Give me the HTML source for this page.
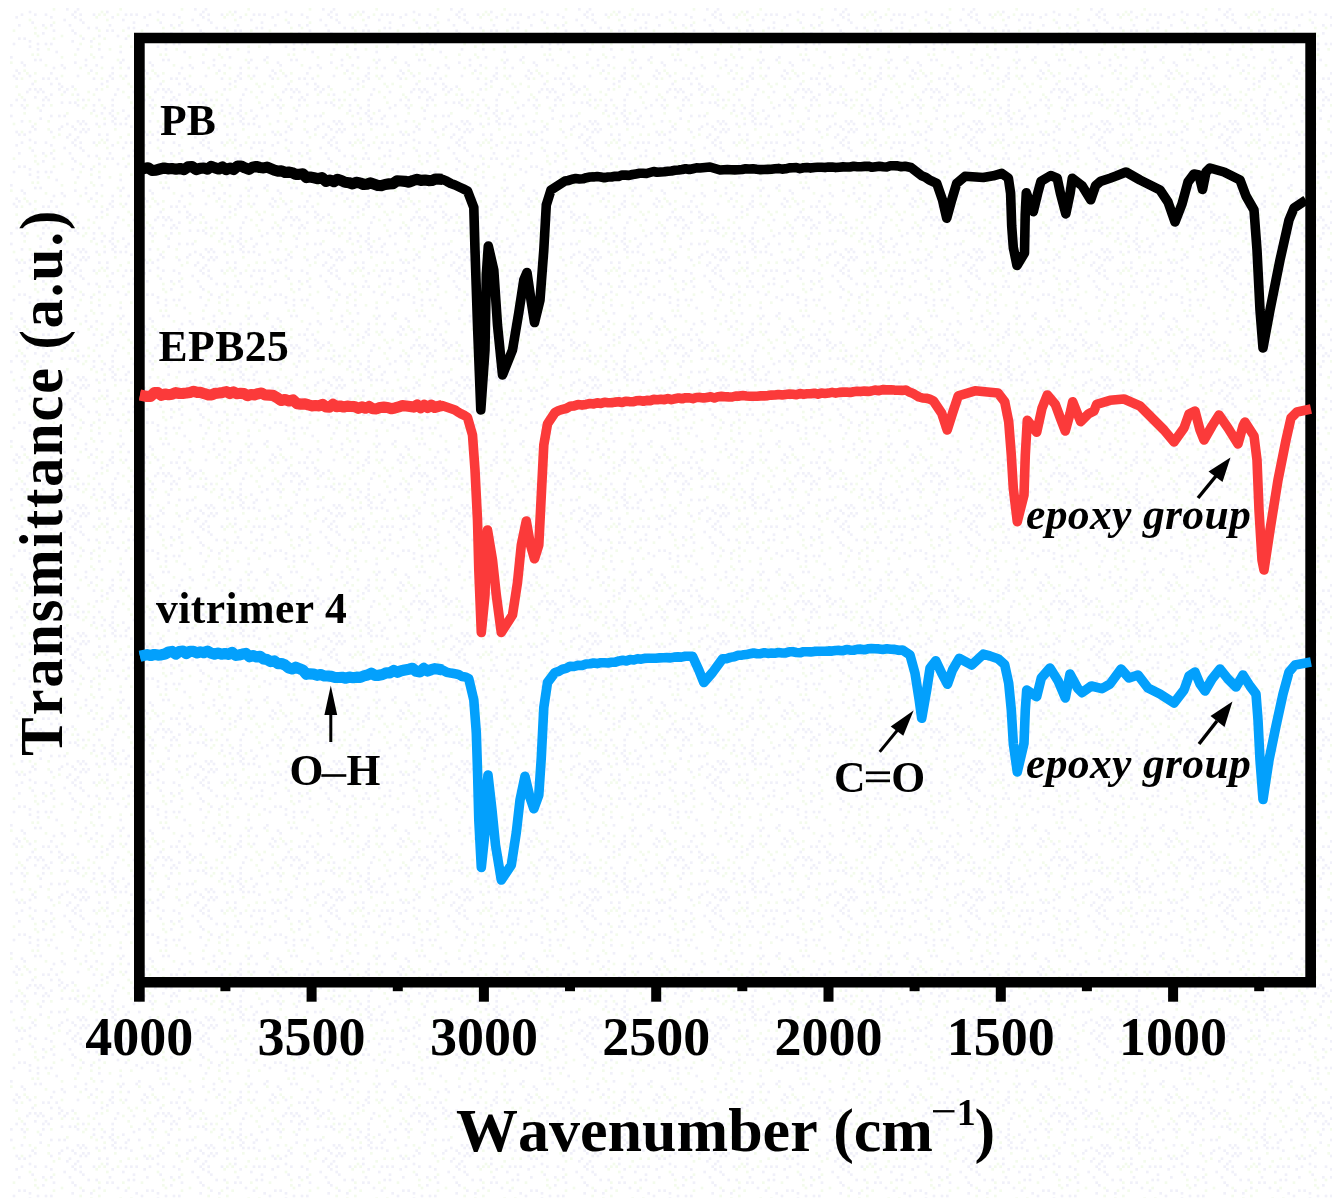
<!DOCTYPE html>
<html><head><meta charset="utf-8"><title>FTIR</title>
<style>
html,body{margin:0;padding:0;background:#fff;}
body{width:1344px;height:1200px;overflow:hidden;}
svg{display:block;filter:blur(0.7px);}
text{font-family:"Liberation Serif",serif;font-weight:bold;fill:#000;}
.tk{font-size:54px;}
.lb{font-size:43.6px;}
.it{font-size:43.6px;font-style:italic;}
.ax{font-size:62.5px;}
</style></head><body>
<svg width="1344" height="1200" viewBox="0 0 1344 1200">
<defs><pattern id="dz" x="10" y="8" width="128.0" height="128.0" patternUnits="userSpaceOnUse"><rect x="98.67" y="66.67" width="2.67" height="2.67" fill="#f0f0f9"/><rect x="90.67" y="58.67" width="2.67" height="2.67" fill="#f3fbec"/><rect x="80.00" y="45.33" width="2.67" height="2.67" fill="#f3fbec"/><rect x="2.67" y="21.33" width="2.67" height="2.67" fill="#f3fbec"/><rect x="13.33" y="29.33" width="2.67" height="2.67" fill="#f0f0f9"/><rect x="117.33" y="106.67" width="2.67" height="2.67" fill="#f0f0f9"/><rect x="72.00" y="98.67" width="2.67" height="2.67" fill="#f3fbec"/><rect x="26.67" y="26.67" width="2.67" height="2.67" fill="#f3fbec"/><rect x="88.00" y="40.00" width="2.67" height="2.67" fill="#f0f0f9"/><rect x="120.00" y="117.33" width="2.67" height="2.67" fill="#f0f0f9"/><rect x="96.00" y="72.00" width="2.67" height="2.67" fill="#f0f0f9"/><rect x="88.00" y="34.67" width="2.67" height="2.67" fill="#f3fbec"/><rect x="8.00" y="125.33" width="2.67" height="2.67" fill="#f0f0f9"/><rect x="106.67" y="80.00" width="2.67" height="2.67" fill="#f0f0f9"/><rect x="32.00" y="82.67" width="2.67" height="2.67" fill="#f0f0f9"/><rect x="82.67" y="85.33" width="2.67" height="2.67" fill="#f3fbec"/><rect x="117.33" y="74.67" width="2.67" height="2.67" fill="#f3fbec"/><rect x="42.67" y="21.33" width="2.67" height="2.67" fill="#f0f0f9"/><rect x="10.67" y="112.00" width="2.67" height="2.67" fill="#f0f0f9"/><rect x="58.67" y="16.00" width="2.67" height="2.67" fill="#f0f0f9"/><rect x="101.33" y="8.00" width="2.67" height="2.67" fill="#f0f0f9"/><rect x="37.33" y="69.33" width="2.67" height="2.67" fill="#f0f0f9"/><rect x="16.00" y="64.00" width="2.67" height="2.67" fill="#f3fbec"/><rect x="74.67" y="96.00" width="2.67" height="2.67" fill="#f3fbec"/><rect x="34.67" y="88.00" width="2.67" height="2.67" fill="#f0f0f9"/><rect x="85.33" y="8.00" width="2.67" height="2.67" fill="#f3fbec"/><rect x="96.00" y="10.67" width="2.67" height="2.67" fill="#f3fbec"/><rect x="18.67" y="112.00" width="2.67" height="2.67" fill="#f3fbec"/><rect x="18.67" y="37.33" width="2.67" height="2.67" fill="#f0f0f9"/><rect x="101.33" y="90.67" width="2.67" height="2.67" fill="#f0f0f9"/><rect x="13.33" y="104.00" width="2.67" height="2.67" fill="#f3fbec"/><rect x="117.33" y="88.00" width="2.67" height="2.67" fill="#f3fbec"/><rect x="85.33" y="56.00" width="2.67" height="2.67" fill="#f0f0f9"/><rect x="112.00" y="69.33" width="2.67" height="2.67" fill="#f3fbec"/><rect x="5.33" y="69.33" width="2.67" height="2.67" fill="#f0f0f9"/><rect x="61.33" y="5.33" width="2.67" height="2.67" fill="#f0f0f9"/><rect x="125.33" y="5.33" width="2.67" height="2.67" fill="#f0f0f9"/><rect x="120.00" y="37.33" width="2.67" height="2.67" fill="#f3fbec"/><rect x="34.67" y="5.33" width="2.67" height="2.67" fill="#f0f0f9"/><rect x="10.67" y="122.67" width="2.67" height="2.67" fill="#f3fbec"/><rect x="109.33" y="0.00" width="2.67" height="2.67" fill="#f3fbec"/><rect x="0.00" y="48.00" width="2.67" height="2.67" fill="#f0f0f9"/><rect x="88.00" y="90.67" width="2.67" height="2.67" fill="#f0f0f9"/><rect x="61.33" y="21.33" width="2.67" height="2.67" fill="#f0f0f9"/><rect x="72.00" y="13.33" width="2.67" height="2.67" fill="#f0f0f9"/><rect x="114.67" y="29.33" width="2.67" height="2.67" fill="#f0f0f9"/><rect x="24.00" y="5.33" width="2.67" height="2.67" fill="#f0f0f9"/><rect x="50.67" y="48.00" width="2.67" height="2.67" fill="#f3fbec"/><rect x="2.67" y="114.67" width="2.67" height="2.67" fill="#f3fbec"/><rect x="117.33" y="18.67" width="2.67" height="2.67" fill="#f0f0f9"/><rect x="2.67" y="34.67" width="2.67" height="2.67" fill="#f0f0f9"/><rect x="18.67" y="10.67" width="2.67" height="2.67" fill="#f3fbec"/><rect x="40.00" y="96.00" width="2.67" height="2.67" fill="#f3fbec"/><rect x="10.67" y="5.33" width="2.67" height="2.67" fill="#f0f0f9"/><rect x="24.00" y="80.00" width="2.67" height="2.67" fill="#f0f0f9"/><rect x="37.33" y="40.00" width="2.67" height="2.67" fill="#f3fbec"/><rect x="24.00" y="18.67" width="2.67" height="2.67" fill="#f3fbec"/><rect x="109.33" y="53.33" width="2.67" height="2.67" fill="#f0f0f9"/><rect x="24.00" y="88.00" width="2.67" height="2.67" fill="#f0f0f9"/><rect x="21.33" y="117.33" width="2.67" height="2.67" fill="#f0f0f9"/><rect x="64.00" y="8.00" width="2.67" height="2.67" fill="#f0f0f9"/><rect x="114.67" y="66.67" width="2.67" height="2.67" fill="#f0f0f9"/><rect x="10.67" y="53.33" width="2.67" height="2.67" fill="#f0f0f9"/><rect x="37.33" y="120.00" width="2.67" height="2.67" fill="#f3fbec"/><rect x="64.00" y="24.00" width="2.67" height="2.67" fill="#f0f0f9"/><rect x="10.67" y="96.00" width="2.67" height="2.67" fill="#f0f0f9"/><rect x="74.67" y="50.67" width="2.67" height="2.67" fill="#f0f0f9"/><rect x="114.67" y="109.33" width="2.67" height="2.67" fill="#f0f0f9"/><rect x="24.00" y="120.00" width="2.67" height="2.67" fill="#f0f0f9"/><rect x="53.33" y="58.67" width="2.67" height="2.67" fill="#f0f0f9"/><rect x="64.00" y="80.00" width="2.67" height="2.67" fill="#f3fbec"/><rect x="93.33" y="98.67" width="2.67" height="2.67" fill="#f0f0f9"/><rect x="32.00" y="24.00" width="2.67" height="2.67" fill="#f0f0f9"/><rect x="66.67" y="0.00" width="2.67" height="2.67" fill="#f0f0f9"/><rect x="96.00" y="77.33" width="2.67" height="2.67" fill="#f3fbec"/><rect x="125.33" y="50.67" width="2.67" height="2.67" fill="#f0f0f9"/><rect x="88.00" y="26.67" width="2.67" height="2.67" fill="#f0f0f9"/><rect x="114.67" y="114.67" width="2.67" height="2.67" fill="#f0f0f9"/><rect x="72.00" y="90.67" width="2.67" height="2.67" fill="#f0f0f9"/><rect x="112.00" y="50.67" width="2.67" height="2.67" fill="#f0f0f9"/><rect x="82.67" y="96.00" width="2.67" height="2.67" fill="#f0f0f9"/><rect x="106.67" y="5.33" width="2.67" height="2.67" fill="#f3fbec"/><rect x="34.67" y="56.00" width="2.67" height="2.67" fill="#f3fbec"/><rect x="93.33" y="114.67" width="2.67" height="2.67" fill="#f0f0f9"/><rect x="29.33" y="101.33" width="2.67" height="2.67" fill="#f0f0f9"/><rect x="45.33" y="69.33" width="2.67" height="2.67" fill="#f0f0f9"/><rect x="109.33" y="58.67" width="2.67" height="2.67" fill="#f3fbec"/><rect x="40.00" y="34.67" width="2.67" height="2.67" fill="#f0f0f9"/><rect x="61.33" y="85.33" width="2.67" height="2.67" fill="#f3fbec"/><rect x="42.67" y="29.33" width="2.67" height="2.67" fill="#f3fbec"/><rect x="106.67" y="104.00" width="2.67" height="2.67" fill="#f3fbec"/><rect x="77.33" y="82.67" width="2.67" height="2.67" fill="#f3fbec"/><rect x="66.67" y="85.33" width="2.67" height="2.67" fill="#f0f0f9"/><rect x="0.00" y="106.67" width="2.67" height="2.67" fill="#f0f0f9"/><rect x="109.33" y="42.67" width="2.67" height="2.67" fill="#f0f0f9"/><rect x="72.00" y="120.00" width="2.67" height="2.67" fill="#f0f0f9"/><rect x="96.00" y="125.33" width="2.67" height="2.67" fill="#f0f0f9"/><rect x="104.00" y="85.33" width="2.67" height="2.67" fill="#f0f0f9"/><rect x="85.33" y="114.67" width="2.67" height="2.67" fill="#f0f0f9"/><rect x="117.33" y="26.67" width="2.67" height="2.67" fill="#f3fbec"/><rect x="32.00" y="16.00" width="2.67" height="2.67" fill="#f0f0f9"/><rect x="42.67" y="0.00" width="2.67" height="2.67" fill="#f3fbec"/><rect x="77.33" y="90.67" width="2.67" height="2.67" fill="#f3fbec"/><rect x="58.67" y="93.33" width="2.67" height="2.67" fill="#f0f0f9"/><rect x="32.00" y="90.67" width="2.67" height="2.67" fill="#f0f0f9"/><rect x="56.00" y="114.67" width="2.67" height="2.67" fill="#f0f0f9"/><rect x="77.33" y="120.00" width="2.67" height="2.67" fill="#f0f0f9"/><rect x="69.33" y="26.67" width="2.67" height="2.67" fill="#f3fbec"/><rect x="5.33" y="8.00" width="2.67" height="2.67" fill="#f0f0f9"/><rect x="77.33" y="18.67" width="2.67" height="2.67" fill="#f0f0f9"/><rect x="45.33" y="42.67" width="2.67" height="2.67" fill="#f0f0f9"/><rect x="104.00" y="120.00" width="2.67" height="2.67" fill="#f3fbec"/><rect x="96.00" y="21.33" width="2.67" height="2.67" fill="#f0f0f9"/><rect x="29.33" y="109.33" width="2.67" height="2.67" fill="#f0f0f9"/><rect x="90.67" y="48.00" width="2.67" height="2.67" fill="#f0f0f9"/><rect x="112.00" y="101.33" width="2.67" height="2.67" fill="#f0f0f9"/><rect x="112.00" y="21.33" width="2.67" height="2.67" fill="#f3fbec"/><rect x="109.33" y="66.67" width="2.67" height="2.67" fill="#f3fbec"/><rect x="66.67" y="40.00" width="2.67" height="2.67" fill="#f0f0f9"/><rect x="98.67" y="104.00" width="2.67" height="2.67" fill="#f0f0f9"/><rect x="26.67" y="82.67" width="2.67" height="2.67" fill="#f0f0f9"/><rect x="48.00" y="80.00" width="2.67" height="2.67" fill="#f0f0f9"/><rect x="117.33" y="125.33" width="2.67" height="2.67" fill="#f3fbec"/><rect x="42.67" y="13.33" width="2.67" height="2.67" fill="#f3fbec"/><rect x="24.00" y="72.00" width="2.67" height="2.67" fill="#f3fbec"/><rect x="101.33" y="69.33" width="2.67" height="2.67" fill="#f0f0f9"/><rect x="82.67" y="29.33" width="2.67" height="2.67" fill="#f3fbec"/><rect x="125.33" y="125.33" width="2.67" height="2.67" fill="#f3fbec"/><rect x="37.33" y="90.67" width="2.67" height="2.67" fill="#f0f0f9"/><rect x="88.00" y="5.33" width="2.67" height="2.67" fill="#f3fbec"/><rect x="64.00" y="53.33" width="2.67" height="2.67" fill="#f0f0f9"/><rect x="40.00" y="8.00" width="2.67" height="2.67" fill="#f0f0f9"/><rect x="109.33" y="37.33" width="2.67" height="2.67" fill="#f3fbec"/><rect x="56.00" y="104.00" width="2.67" height="2.67" fill="#f3fbec"/><rect x="40.00" y="122.67" width="2.67" height="2.67" fill="#f0f0f9"/><rect x="101.33" y="58.67" width="2.67" height="2.67" fill="#f0f0f9"/><rect x="48.00" y="74.67" width="2.67" height="2.67" fill="#f0f0f9"/><rect x="77.33" y="64.00" width="2.67" height="2.67" fill="#f3fbec"/><rect x="125.33" y="32.00" width="2.67" height="2.67" fill="#f0f0f9"/><rect x="122.67" y="82.67" width="2.67" height="2.67" fill="#f0f0f9"/><rect x="61.33" y="77.33" width="2.67" height="2.67" fill="#f0f0f9"/><rect x="21.33" y="13.33" width="2.67" height="2.67" fill="#f0f0f9"/><rect x="85.33" y="80.00" width="2.67" height="2.67" fill="#f0f0f9"/><rect x="58.67" y="125.33" width="2.67" height="2.67" fill="#f0f0f9"/><rect x="16.00" y="82.67" width="2.67" height="2.67" fill="#f0f0f9"/><rect x="101.33" y="106.67" width="2.67" height="2.67" fill="#f0f0f9"/><rect x="69.33" y="122.67" width="2.67" height="2.67" fill="#f0f0f9"/><rect x="18.67" y="2.67" width="2.67" height="2.67" fill="#f0f0f9"/><rect x="80.00" y="104.00" width="2.67" height="2.67" fill="#f3fbec"/><rect x="18.67" y="122.67" width="2.67" height="2.67" fill="#f0f0f9"/><rect x="66.67" y="96.00" width="2.67" height="2.67" fill="#f0f0f9"/><rect x="48.00" y="125.33" width="2.67" height="2.67" fill="#f3fbec"/><rect x="85.33" y="18.67" width="2.67" height="2.67" fill="#f0f0f9"/><rect x="50.67" y="85.33" width="2.67" height="2.67" fill="#f3fbec"/><rect x="85.33" y="64.00" width="2.67" height="2.67" fill="#f3fbec"/><rect x="90.67" y="2.67" width="2.67" height="2.67" fill="#f3fbec"/><rect x="53.33" y="82.67" width="2.67" height="2.67" fill="#f0f0f9"/><rect x="64.00" y="2.67" width="2.67" height="2.67" fill="#f0f0f9"/><rect x="8.00" y="64.00" width="2.67" height="2.67" fill="#f0f0f9"/><rect x="69.33" y="58.67" width="2.67" height="2.67" fill="#f3fbec"/><rect x="90.67" y="80.00" width="2.67" height="2.67" fill="#f3fbec"/><rect x="13.33" y="56.00" width="2.67" height="2.67" fill="#f0f0f9"/><rect x="104.00" y="114.67" width="2.67" height="2.67" fill="#f0f0f9"/><rect x="96.00" y="2.67" width="2.67" height="2.67" fill="#f0f0f9"/><rect x="90.67" y="96.00" width="2.67" height="2.67" fill="#f3fbec"/><rect x="74.67" y="56.00" width="2.67" height="2.67" fill="#f0f0f9"/><rect x="40.00" y="85.33" width="2.67" height="2.67" fill="#f0f0f9"/><rect x="80.00" y="32.00" width="2.67" height="2.67" fill="#f0f0f9"/><rect x="5.33" y="90.67" width="2.67" height="2.67" fill="#f0f0f9"/><rect x="64.00" y="93.33" width="2.67" height="2.67" fill="#f0f0f9"/><rect x="120.00" y="93.33" width="2.67" height="2.67" fill="#f3fbec"/><rect x="56.00" y="80.00" width="2.67" height="2.67" fill="#f0f0f9"/><rect x="82.67" y="5.33" width="2.67" height="2.67" fill="#f0f0f9"/><rect x="85.33" y="106.67" width="2.67" height="2.67" fill="#f3fbec"/><rect x="13.33" y="90.67" width="2.67" height="2.67" fill="#f0f0f9"/><rect x="34.67" y="34.67" width="2.67" height="2.67" fill="#f0f0f9"/><rect x="64.00" y="120.00" width="2.67" height="2.67" fill="#f0f0f9"/><rect x="90.67" y="74.67" width="2.67" height="2.67" fill="#f0f0f9"/><rect x="24.00" y="114.67" width="2.67" height="2.67" fill="#f3fbec"/><rect x="122.67" y="13.33" width="2.67" height="2.67" fill="#f0f0f9"/><rect x="114.67" y="5.33" width="2.67" height="2.67" fill="#f0f0f9"/><rect x="32.00" y="69.33" width="2.67" height="2.67" fill="#f0f0f9"/><rect x="69.33" y="10.67" width="2.67" height="2.67" fill="#f0f0f9"/><rect x="106.67" y="50.67" width="2.67" height="2.67" fill="#f3fbec"/><rect x="56.00" y="0.00" width="2.67" height="2.67" fill="#f0f0f9"/><rect x="64.00" y="45.33" width="2.67" height="2.67" fill="#f3fbec"/><rect x="72.00" y="112.00" width="2.67" height="2.67" fill="#f0f0f9"/><rect x="21.33" y="45.33" width="2.67" height="2.67" fill="#f3fbec"/><rect x="18.67" y="80.00" width="2.67" height="2.67" fill="#f0f0f9"/><rect x="69.33" y="5.33" width="2.67" height="2.67" fill="#f0f0f9"/><rect x="109.33" y="114.67" width="2.67" height="2.67" fill="#f0f0f9"/><rect x="18.67" y="66.67" width="2.67" height="2.67" fill="#f0f0f9"/><rect x="112.00" y="10.67" width="2.67" height="2.67" fill="#f0f0f9"/><rect x="66.67" y="66.67" width="2.67" height="2.67" fill="#f0f0f9"/><rect x="69.33" y="114.67" width="2.67" height="2.67" fill="#f0f0f9"/><rect x="50.67" y="66.67" width="2.67" height="2.67" fill="#f3fbec"/><rect x="37.33" y="112.00" width="2.67" height="2.67" fill="#f3fbec"/><rect x="69.33" y="34.67" width="2.67" height="2.67" fill="#f3fbec"/><rect x="40.00" y="64.00" width="2.67" height="2.67" fill="#f0f0f9"/><rect x="50.67" y="93.33" width="2.67" height="2.67" fill="#f0f0f9"/><rect x="82.67" y="48.00" width="2.67" height="2.67" fill="#f3fbec"/><rect x="50.67" y="117.33" width="2.67" height="2.67" fill="#f0f0f9"/><rect x="34.67" y="18.67" width="2.67" height="2.67" fill="#f3fbec"/><rect x="40.00" y="16.00" width="2.67" height="2.67" fill="#f0f0f9"/><rect x="90.67" y="69.33" width="2.67" height="2.67" fill="#f3fbec"/><rect x="5.33" y="122.67" width="2.67" height="2.67" fill="#f0f0f9"/><rect x="10.67" y="88.00" width="2.67" height="2.67" fill="#f3fbec"/><rect x="104.00" y="109.33" width="2.67" height="2.67" fill="#f0f0f9"/><rect x="101.33" y="96.00" width="2.67" height="2.67" fill="#f0f0f9"/><rect x="82.67" y="69.33" width="2.67" height="2.67" fill="#f0f0f9"/><rect x="0.00" y="53.33" width="2.67" height="2.67" fill="#f3fbec"/><rect x="61.33" y="117.33" width="2.67" height="2.67" fill="#f0f0f9"/><rect x="101.33" y="101.33" width="2.67" height="2.67" fill="#f0f0f9"/><rect x="98.67" y="16.00" width="2.67" height="2.67" fill="#f0f0f9"/><rect x="66.67" y="90.67" width="2.67" height="2.67" fill="#f3fbec"/><rect x="80.00" y="61.33" width="2.67" height="2.67" fill="#f0f0f9"/><rect x="120.00" y="5.33" width="2.67" height="2.67" fill="#f0f0f9"/><rect x="101.33" y="112.00" width="2.67" height="2.67" fill="#f0f0f9"/><rect x="29.33" y="50.67" width="2.67" height="2.67" fill="#f0f0f9"/><rect x="93.33" y="109.33" width="2.67" height="2.67" fill="#f3fbec"/><rect x="26.67" y="45.33" width="2.67" height="2.67" fill="#f3fbec"/><rect x="5.33" y="61.33" width="2.67" height="2.67" fill="#f0f0f9"/><rect x="2.67" y="66.67" width="2.67" height="2.67" fill="#f0f0f9"/><rect x="21.33" y="74.67" width="2.67" height="2.67" fill="#f0f0f9"/><rect x="90.67" y="104.00" width="2.67" height="2.67" fill="#f0f0f9"/><rect x="0.00" y="96.00" width="2.67" height="2.67" fill="#f0f0f9"/><rect x="18.67" y="32.00" width="2.67" height="2.67" fill="#f0f0f9"/><rect x="48.00" y="120.00" width="2.67" height="2.67" fill="#f0f0f9"/><rect x="122.67" y="98.67" width="2.67" height="2.67" fill="#f0f0f9"/><rect x="8.00" y="85.33" width="2.67" height="2.67" fill="#f3fbec"/><rect x="88.00" y="117.33" width="2.67" height="2.67" fill="#f3fbec"/><rect x="72.00" y="29.33" width="2.67" height="2.67" fill="#f0f0f9"/><rect x="122.67" y="18.67" width="2.67" height="2.67" fill="#f0f0f9"/><rect x="53.33" y="10.67" width="2.67" height="2.67" fill="#f0f0f9"/><rect x="16.00" y="96.00" width="2.67" height="2.67" fill="#f3fbec"/><rect x="74.67" y="122.67" width="2.67" height="2.67" fill="#f0f0f9"/><rect x="93.33" y="5.33" width="2.67" height="2.67" fill="#f3fbec"/><rect x="32.00" y="96.00" width="2.67" height="2.67" fill="#f0f0f9"/><rect x="5.33" y="77.33" width="2.67" height="2.67" fill="#f3fbec"/><rect x="29.33" y="80.00" width="2.67" height="2.67" fill="#f0f0f9"/><rect x="88.00" y="21.33" width="2.67" height="2.67" fill="#f3fbec"/><rect x="10.67" y="69.33" width="2.67" height="2.67" fill="#f3fbec"/><rect x="117.33" y="58.67" width="2.67" height="2.67" fill="#f0f0f9"/><rect x="82.67" y="101.33" width="2.67" height="2.67" fill="#f0f0f9"/><rect x="24.00" y="64.00" width="2.67" height="2.67" fill="#f3fbec"/><rect x="101.33" y="21.33" width="2.67" height="2.67" fill="#f0f0f9"/><rect x="120.00" y="77.33" width="2.67" height="2.67" fill="#f3fbec"/><rect x="26.67" y="40.00" width="2.67" height="2.67" fill="#f0f0f9"/><rect x="8.00" y="16.00" width="2.67" height="2.67" fill="#f0f0f9"/><rect x="26.67" y="98.67" width="2.67" height="2.67" fill="#f3fbec"/><rect x="106.67" y="26.67" width="2.67" height="2.67" fill="#f0f0f9"/><rect x="13.33" y="125.33" width="2.67" height="2.67" fill="#f0f0f9"/><rect x="50.67" y="77.33" width="2.67" height="2.67" fill="#f0f0f9"/><rect x="40.00" y="106.67" width="2.67" height="2.67" fill="#f0f0f9"/><rect x="26.67" y="34.67" width="2.67" height="2.67" fill="#f0f0f9"/><rect x="66.67" y="112.00" width="2.67" height="2.67" fill="#f0f0f9"/><rect x="48.00" y="106.67" width="2.67" height="2.67" fill="#f0f0f9"/><rect x="61.33" y="32.00" width="2.67" height="2.67" fill="#f0f0f9"/><rect x="8.00" y="29.33" width="2.67" height="2.67" fill="#f0f0f9"/><rect x="93.33" y="29.33" width="2.67" height="2.67" fill="#f3fbec"/><rect x="125.33" y="74.67" width="2.67" height="2.67" fill="#f3fbec"/><rect x="50.67" y="26.67" width="2.67" height="2.67" fill="#f3fbec"/><rect x="53.33" y="106.67" width="2.67" height="2.67" fill="#f0f0f9"/><rect x="24.00" y="24.00" width="2.67" height="2.67" fill="#f3fbec"/><rect x="24.00" y="50.67" width="2.67" height="2.67" fill="#f0f0f9"/><rect x="80.00" y="37.33" width="2.67" height="2.67" fill="#f3fbec"/><rect x="50.67" y="56.00" width="2.67" height="2.67" fill="#f0f0f9"/><rect x="112.00" y="82.67" width="2.67" height="2.67" fill="#f3fbec"/><rect x="13.33" y="61.33" width="2.67" height="2.67" fill="#f3fbec"/><rect x="40.00" y="74.67" width="2.67" height="2.67" fill="#f0f0f9"/><rect x="42.67" y="58.67" width="2.67" height="2.67" fill="#f0f0f9"/><rect x="88.00" y="125.33" width="2.67" height="2.67" fill="#f0f0f9"/><rect x="74.67" y="114.67" width="2.67" height="2.67" fill="#f0f0f9"/><rect x="101.33" y="64.00" width="2.67" height="2.67" fill="#f0f0f9"/><rect x="98.67" y="40.00" width="2.67" height="2.67" fill="#f3fbec"/><rect x="13.33" y="98.67" width="2.67" height="2.67" fill="#f0f0f9"/></pattern></defs>
<rect width="1344" height="1200" fill="#fff"/>
<rect x="10" y="8" width="1322" height="1190" fill="url(#dz)"/>
<!-- frame -->
<path d="M139.35,38 H1310.65 V982.25 H139.35 Z" fill="none" stroke="#000" stroke-width="10.7"/>
<rect x="134" y="980" width="10.7" height="21.7"/>
<g fill="#000"><rect x="306.6" y="980" width="10" height="21.7"/><rect x="478.9" y="980" width="10" height="21.7"/><rect x="651.2" y="980" width="10" height="21.7"/><rect x="823.5" y="980" width="10" height="21.7"/><rect x="995.8" y="980" width="10" height="21.7"/><rect x="1168.1" y="980" width="10" height="21.7"/><rect x="220.4" y="980" width="10" height="11.2"/><rect x="392.8" y="980" width="10" height="11.2"/><rect x="565.0" y="980" width="10" height="11.2"/><rect x="737.3" y="980" width="10" height="11.2"/><rect x="909.6" y="980" width="10" height="11.2"/><rect x="1081.9" y="980" width="10" height="11.2"/><rect x="1254.2" y="980" width="10" height="11.2"/></g>
<text x="139.3" y="1055.3" text-anchor="middle" class="tk">4000</text><text x="311.6" y="1055.3" text-anchor="middle" class="tk">3500</text><text x="483.9" y="1055.3" text-anchor="middle" class="tk">3000</text><text x="656.2" y="1055.3" text-anchor="middle" class="tk">2500</text><text x="828.5" y="1055.3" text-anchor="middle" class="tk">2000</text><text x="1000.8" y="1055.3" text-anchor="middle" class="tk">1500</text><text x="1173.1" y="1055.3" text-anchor="middle" class="tk">1000</text>
<!-- curves -->
<path d="M140.0,169.3 L148.0,167.8 L152.0,170.4 L156.0,170.1 L160.0,169.0 L164.0,168.0 L168.0,168.8 L172.0,168.5 L176.0,169.2 L180.0,168.5 L184.0,169.6 L188.0,166.9 L192.0,166.6 L196.0,169.6 L200.0,168.3 L203.8,168.0 L207.5,169.2 L211.2,166.3 L215.0,167.9 L218.8,169.0 L222.5,167.0 L226.2,169.7 L230.0,168.0 L233.8,169.5 L237.5,166.1 L241.2,166.0 L245.0,167.9 L248.8,169.4 L252.5,167.2 L256.2,166.5 L260.0,167.5 L263.6,167.9 L267.1,167.1 L270.7,168.6 L274.3,170.1 L277.9,171.1 L281.4,170.8 L285.0,172.5 L288.6,172.1 L292.1,172.7 L295.7,174.3 L299.3,174.3 L302.9,173.9 L306.4,177.6 L310.0,177.0 L314.0,177.8 L318.0,178.7 L322.0,177.6 L326.0,181.3 L330.0,180.0 L333.8,181.7 L337.5,179.3 L341.2,180.5 L345.0,182.3 L348.8,182.7 L352.5,183.9 L356.2,182.3 L360.0,183.0 L363.6,184.5 L367.1,184.1 L370.7,182.9 L374.3,184.2 L377.9,185.5 L381.4,185.6 L385.0,184.5 L389.0,183.9 L393.0,183.6 L397.0,180.8 L401.0,181.0 L405.0,181.3 L409.0,182.2 L413.0,180.5 L417.0,179.3 L421.0,180.4 L425.0,180.0 L428.5,180.6 L432.0,180.4 L435.5,179.1 L439.0,179.2 L442.5,179.3 L446.7,181.2 L450.8,183.5 L455.0,185.0 L459.2,187.0 L463.3,188.9 L467.5,191.0 L473.8,207.5 L475.0,250.0 L477.5,325.0 L480.8,410.0 L485.0,350.0 L486.3,275.0 L488.3,246.0 L493.8,270.0 L497.5,325.0 L502.5,375.0 L512.5,350.0 L518.8,312.5 L523.8,280.0 L527.0,272.5 L531.0,300.0 L534.5,322.5 L540.0,300.0 L543.8,250.0 L546.3,205.0 L551.0,190.0 L565.0,181.0 L568.6,180.4 L572.1,179.2 L575.7,178.6 L579.3,179.0 L582.9,178.8 L586.4,177.7 L590.0,177.0 L593.6,176.9 L597.2,176.5 L600.8,177.0 L604.4,177.7 L608.0,177.0 L611.5,177.0 L615.0,176.3 L618.5,176.4 L622.0,175.1 L625.5,175.1 L629.0,175.4 L632.5,174.5 L636.0,173.9 L639.5,173.3 L643.0,173.3 L646.5,173.5 L650.0,172.5 L653.6,171.5 L657.1,172.3 L660.7,172.0 L664.3,171.8 L667.9,171.2 L671.4,171.0 L675.0,170.3 L678.6,170.0 L682.1,169.5 L685.7,168.7 L689.3,169.5 L692.9,168.7 L696.4,167.9 L700.0,168.0 L705.0,167.5 L710.0,167.0 L715.0,168.5 L720.0,170.0 L723.7,169.7 L727.3,169.6 L731.0,169.8 L734.7,169.9 L738.3,169.8 L742.0,169.5 L745.7,168.8 L749.3,169.0 L753.0,168.8 L756.7,169.3 L760.3,169.6 L764.0,169.5 L767.7,169.4 L771.3,169.3 L775.0,168.8 L778.6,168.4 L782.1,169.1 L785.7,168.8 L789.3,167.9 L792.9,167.7 L796.4,167.6 L800.0,168.6 L803.6,167.8 L807.1,167.5 L810.7,168.1 L814.3,167.6 L817.9,167.2 L821.4,167.2 L825.0,167.6 L828.6,167.0 L832.1,167.1 L835.7,167.6 L839.3,167.2 L842.9,166.9 L846.4,167.0 L850.0,167.0 L853.7,166.3 L857.3,166.7 L861.0,166.7 L864.7,166.4 L868.3,166.2 L872.0,167.3 L875.7,166.7 L879.3,166.2 L883.0,166.7 L886.7,167.0 L890.3,165.8 L894.0,165.8 L897.7,165.9 L901.3,166.7 L905.0,166.3 L911.0,167.5 L921.7,175.8 L925.5,177.2 L929.2,179.8 L936.7,183.3 L942.5,200.0 L946.7,218.3 L951.7,200.0 L956.7,183.3 L965.0,176.3 L983.3,177.5 L993.3,175.8 L1001.7,173.3 L1008.4,178.2 L1010.6,193.3 L1011.7,225.8 L1013.3,247.5 L1017.0,265.5 L1024.5,253.0 L1025.2,215.0 L1026.3,192.8 L1033.3,211.7 L1037.7,193.3 L1040.9,181.4 L1050.7,175.5 L1057.2,178.2 L1060.4,193.3 L1065.8,213.9 L1070.1,193.3 L1072.3,178.2 L1082.1,185.7 L1090.7,199.8 L1095.6,185.7 L1100.5,181.4 L1110.0,178.2 L1116.0,176.0 L1126.0,172.0 L1140.0,180.0 L1160.0,190.0 L1168.0,202.0 L1175.0,222.0 L1182.0,204.0 L1188.0,182.0 L1194.0,174.0 L1199.0,175.0 L1202.5,189.5 L1206.0,172.0 L1210.0,168.0 L1224.0,172.0 L1240.0,180.0 L1246.0,196.0 L1254.0,210.0 L1257.0,250.0 L1260.0,310.0 L1263.0,348.0 L1270.0,310.0 L1280.0,260.0 L1289.0,220.0 L1294.0,208.0 L1306.0,200.0" fill="none" stroke="#000" stroke-width="9.6" stroke-linejoin="round" stroke-linecap="butt"/>
<path d="M140.0,395.0 L147.1,396.4 L150.7,396.3 L154.3,392.7 L157.9,392.7 L161.4,395.4 L165.0,394.0 L168.6,394.7 L172.1,394.2 L175.7,392.6 L179.3,393.5 L182.9,393.3 L186.4,393.0 L190.0,392.5 L193.6,391.3 L197.3,392.4 L200.9,392.4 L204.5,393.7 L208.2,394.8 L211.8,394.8 L215.5,393.3 L219.1,393.0 L222.7,392.4 L226.4,391.6 L230.0,393.5 L233.5,391.9 L237.0,393.7 L240.5,393.3 L244.0,393.6 L247.5,395.7 L251.0,394.5 L254.5,394.8 L258.0,393.7 L261.5,393.0 L265.0,395.0 L269.0,395.2 L273.0,395.4 L277.0,397.7 L281.0,400.5 L285.0,399.5 L289.0,401.0 L293.0,400.0 L297.0,403.6 L301.0,404.1 L305.0,403.8 L308.5,404.9 L312.0,405.8 L315.5,405.5 L319.0,405.8 L322.5,404.3 L326.0,406.9 L329.5,407.1 L333.0,404.3 L336.5,406.7 L340.0,406.0 L343.6,407.0 L347.3,406.1 L350.9,406.5 L354.5,406.5 L358.2,408.3 L361.8,406.8 L365.5,408.2 L369.1,406.5 L372.7,408.7 L376.4,408.9 L380.0,407.5 L383.8,407.2 L387.5,407.5 L391.2,408.7 L395.0,407.9 L398.8,406.8 L402.5,405.7 L406.2,406.0 L410.0,406.5 L413.6,407.1 L417.1,405.0 L420.7,407.7 L424.2,405.2 L427.8,407.5 L431.3,405.1 L434.9,407.5 L438.4,406.4 L442.0,405.5 L446.3,407.0 L450.7,408.5 L455.0,410.0 L458.1,412.1 L461.2,413.9 L464.4,415.4 L467.5,417.5 L472.5,435.0 L475.0,470.0 L477.5,520.0 L478.8,570.0 L481.3,632.5 L485.0,595.0 L486.3,545.0 L487.5,530.0 L492.5,560.0 L496.3,595.0 L501.3,632.5 L512.5,615.0 L517.5,582.5 L521.3,545.0 L526.3,521.0 L530.5,545.0 L534.5,558.8 L538.8,545.0 L541.3,495.0 L543.8,445.0 L547.5,423.8 L555.0,412.5 L558.8,410.5 L562.5,409.4 L566.2,408.5 L570.0,406.3 L574.0,405.9 L578.0,404.6 L582.0,405.1 L586.0,404.4 L590.0,403.5 L593.6,403.9 L597.2,402.8 L600.8,403.4 L604.4,402.3 L608.0,402.8 L611.5,402.8 L615.1,402.1 L618.6,401.8 L622.1,402.5 L625.6,401.2 L629.2,401.6 L632.7,401.8 L636.2,400.8 L639.7,400.5 L643.3,401.2 L646.8,400.4 L650.3,400.6 L653.8,399.4 L657.4,399.7 L660.9,399.2 L664.4,399.7 L667.9,398.6 L671.5,399.6 L675.0,398.8 L678.6,398.0 L682.1,398.8 L685.7,397.7 L689.3,397.9 L692.9,398.6 L696.4,397.5 L700.0,397.4 L703.6,398.0 L707.1,397.4 L710.7,396.8 L714.3,398.0 L717.9,396.7 L721.4,396.4 L725.0,396.7 L728.6,396.9 L732.1,397.0 L735.7,396.0 L739.3,396.1 L742.9,395.6 L746.4,396.0 L750.0,396.3 L753.6,396.2 L757.1,396.2 L760.7,395.9 L764.3,395.9 L767.9,395.6 L771.4,395.1 L775.0,395.0 L778.6,394.5 L782.1,395.0 L785.7,394.4 L789.3,394.0 L792.9,394.3 L796.4,394.8 L800.0,393.6 L803.6,394.2 L807.1,393.8 L810.7,393.8 L814.3,393.2 L817.9,394.2 L821.4,393.1 L825.0,393.5 L828.6,393.1 L832.1,392.4 L835.7,393.1 L839.3,392.4 L842.9,392.1 L846.4,392.0 L850.0,392.5 L853.6,391.7 L857.1,391.2 L860.7,391.6 L864.3,391.1 L867.9,391.4 L871.4,391.0 L875.0,390.0 L878.9,390.7 L882.8,389.6 L886.6,389.9 L890.5,389.7 L894.4,390.1 L898.2,390.2 L902.1,390.4 L906.0,390.0 L909.2,392.0 L912.5,393.2 L915.8,395.1 L919.0,397.0 L922.6,398.0 L926.1,398.2 L929.7,399.2 L933.3,400.8 L941.7,413.3 L947.2,430.0 L952.5,413.3 L958.3,395.8 L975.0,390.8 L990.0,392.3 L998.0,393.0 L1004.7,401.7 L1008.7,421.7 L1011.3,455.0 L1013.3,488.3 L1017.3,521.7 L1024.0,495.0 L1025.3,455.0 L1027.3,420.3 L1036.7,432.3 L1042.0,408.3 L1047.3,395.0 L1055.3,404.3 L1060.7,419.0 L1065.3,431.0 L1070.0,413.7 L1072.7,401.7 L1080.7,421.7 L1088.7,413.7 L1094.0,411.0 L1096.7,404.3 L1110.0,400.3 L1124.0,399.0 L1140.0,406.0 L1152.0,418.0 L1164.0,430.0 L1174.0,442.0 L1184.0,428.0 L1189.0,414.0 L1195.0,411.0 L1200.0,430.0 L1204.0,440.0 L1212.0,426.0 L1219.0,415.0 L1228.0,428.0 L1238.0,444.0 L1243.0,426.0 L1245.0,422.0 L1254.0,436.0 L1257.0,460.0 L1259.0,510.0 L1262.0,560.0 L1264.0,570.0 L1270.0,530.0 L1278.0,480.0 L1286.0,440.0 L1291.0,418.0 L1297.0,412.0 L1311.0,409.0" fill="none" stroke="#fb3a3a" stroke-width="9.6" stroke-linejoin="round" stroke-linecap="butt"/>
<path d="M140.0,656.3 L147.1,654.6 L150.7,655.5 L154.3,654.5 L157.9,655.1 L161.4,654.8 L165.0,654.0 L168.6,652.0 L172.1,651.4 L175.7,654.1 L179.3,651.5 L182.9,651.1 L186.4,653.6 L190.0,651.3 L193.5,651.4 L197.0,653.0 L200.5,651.9 L204.0,652.7 L207.5,651.1 L211.0,653.1 L214.5,654.2 L218.0,653.1 L221.5,654.2 L225.0,653.5 L228.5,654.4 L232.0,652.4 L235.5,655.3 L239.0,655.0 L242.5,654.1 L246.0,653.4 L249.5,656.8 L253.0,655.6 L256.5,656.9 L260.0,656.3 L263.6,659.0 L267.1,659.6 L270.7,661.6 L274.3,660.9 L277.9,663.7 L281.4,663.5 L285.0,665.0 L288.6,667.9 L292.1,669.0 L295.7,667.2 L299.3,668.6 L302.9,670.2 L306.4,674.3 L310.0,673.8 L313.6,674.1 L317.1,675.3 L320.7,674.6 L324.3,675.9 L327.9,676.0 L331.4,676.4 L335.0,677.5 L338.6,677.5 L342.2,677.3 L345.8,678.2 L349.4,677.1 L353.1,677.7 L356.7,677.2 L360.3,677.4 L363.9,675.9 L367.5,675.0 L371.2,673.2 L375.0,675.4 L378.8,675.3 L382.5,674.5 L386.2,672.8 L390.0,672.8 L393.8,670.4 L397.5,672.3 L401.2,670.8 L405.0,670.0 L408.8,669.2 L412.5,668.3 L416.2,671.3 L420.0,671.9 L423.8,668.4 L427.5,671.1 L431.2,669.7 L435.0,668.7 L438.8,669.2 L442.5,670.0 L446.7,672.3 L450.8,673.1 L455.0,673.8 L458.4,674.4 L461.9,676.5 L465.4,676.9 L468.8,678.8 L473.8,700.0 L476.3,732.5 L477.5,770.0 L478.8,820.0 L481.3,867.5 L485.0,832.5 L486.3,790.0 L488.0,775.0 L492.0,810.0 L495.5,845.0 L501.3,880.0 L511.3,865.0 L516.3,832.5 L520.0,800.0 L525.0,776.3 L530.0,797.5 L533.8,808.8 L538.8,795.0 L541.3,757.5 L543.8,707.5 L547.5,682.5 L555.0,672.5 L558.8,671.3 L562.5,669.2 L566.2,668.4 L570.0,666.3 L574.0,666.5 L578.0,665.3 L582.0,665.5 L586.0,664.0 L590.0,663.8 L593.6,663.0 L597.2,663.6 L600.8,662.7 L604.4,662.7 L608.0,663.0 L611.7,662.3 L615.4,662.1 L619.1,660.9 L622.8,660.3 L626.4,660.9 L630.1,659.6 L633.8,660.0 L637.5,658.8 L641.2,659.2 L644.8,658.3 L648.5,658.2 L652.2,658.2 L655.8,658.2 L659.5,657.9 L663.2,657.7 L666.8,657.6 L670.5,657.9 L674.2,657.1 L677.8,656.9 L681.5,657.1 L685.2,656.3 L688.8,656.2 L692.5,656.3 L698.8,670.0 L703.8,682.5 L712.5,672.5 L722.5,658.8 L726.4,658.8 L730.4,657.4 L734.3,656.7 L738.2,655.3 L742.1,655.1 L746.1,654.6 L750.0,653.8 L753.6,653.0 L757.1,653.7 L760.7,653.6 L764.3,652.7 L767.9,653.4 L771.4,653.0 L775.0,653.2 L778.6,652.6 L782.1,653.0 L785.7,652.9 L789.3,651.8 L792.9,651.8 L796.4,652.5 L800.0,652.8 L803.6,651.7 L807.1,651.8 L810.7,651.9 L814.3,651.4 L817.9,651.3 L821.4,651.2 L825.0,651.3 L828.6,650.9 L832.1,651.1 L835.7,650.5 L839.3,650.4 L842.9,650.8 L846.4,649.6 L850.0,650.1 L853.6,650.2 L857.1,649.4 L860.7,649.1 L864.3,649.8 L867.9,648.8 L871.4,648.5 L875.0,648.8 L878.9,648.9 L882.9,649.4 L886.8,648.8 L890.7,649.2 L894.6,649.4 L898.6,650.3 L902.5,650.0 L910.0,655.0 L915.0,673.3 L919.2,700.0 L921.7,718.3 L926.7,690.0 L930.0,668.3 L935.8,660.8 L941.7,673.3 L947.5,684.2 L952.5,670.0 L959.2,658.3 L971.7,665.0 L983.3,654.2 L990.0,656.0 L998.0,658.7 L1004.7,664.7 L1008.7,683.3 L1011.3,710.0 L1013.3,743.3 L1017.3,772.0 L1024.0,743.3 L1025.3,710.0 L1026.7,690.0 L1036.7,696.7 L1041.3,678.0 L1050.0,668.0 L1058.0,680.7 L1065.3,698.0 L1070.0,674.0 L1078.0,688.7 L1082.0,692.7 L1091.3,686.0 L1102.0,688.7 L1110.0,684.0 L1121.0,669.0 L1129.0,678.0 L1138.0,675.0 L1148.0,688.0 L1160.0,694.0 L1174.0,703.0 L1184.0,690.0 L1189.0,676.0 L1195.0,672.0 L1200.0,684.0 L1205.0,691.0 L1212.0,679.0 L1220.0,669.0 L1228.0,679.0 L1236.0,687.0 L1243.0,675.0 L1250.0,686.0 L1256.0,694.0 L1258.0,720.0 L1260.0,760.0 L1263.0,799.5 L1269.0,760.0 L1276.0,726.0 L1283.0,694.0 L1289.0,672.0 L1295.0,665.0 L1311.0,662.0" fill="none" stroke="#03a0fc" stroke-width="9.6" stroke-linejoin="round" stroke-linecap="butt"/>
<path d="M140.0,169.3 L148.0,167.8 L152.0,170.4 L156.0,170.1 L160.0,169.0 L164.0,168.0 L168.0,168.8 L172.0,168.5 L176.0,169.2 L180.0,168.5 L184.0,169.6 L188.0,166.9 L192.0,166.6 L196.0,169.6 L200.0,168.3 L203.8,168.0 L207.5,169.2 L211.2,166.3 L215.0,167.9 L218.8,169.0 L222.5,167.0 L226.2,169.7 L230.0,168.0 L233.8,169.5 L237.5,166.1 L241.2,166.0 L245.0,167.9 L248.8,169.4 L252.5,167.2 L256.2,166.5 L260.0,167.5 L263.6,167.9 L267.1,167.1 L270.7,168.6 L274.3,170.1 L277.9,171.1 L281.4,170.8 L285.0,172.5 L288.6,172.1 L292.1,172.7 L295.7,174.3 L299.3,174.3 L302.9,173.9 L306.4,177.6 L310.0,177.0 L314.0,177.8 L318.0,178.7 L322.0,177.6 L326.0,181.3 L330.0,180.0 L333.8,181.7 L337.5,179.3 L341.2,180.5 L345.0,182.3 L348.8,182.7 L352.5,183.9 L356.2,182.3 L360.0,183.0 L363.6,184.5 L367.1,184.1 L370.7,182.9 L374.3,184.2 L377.9,185.5 L381.4,185.6 L385.0,184.5 L389.0,183.9 L393.0,183.6 L397.0,180.8 L401.0,181.0 L405.0,181.3 L409.0,182.2 L413.0,180.5 L417.0,179.3 L421.0,180.4 L425.0,180.0 L428.5,180.6 L432.0,180.4 L435.5,179.1 L439.0,179.2 L442.5,179.3" fill="none" stroke="#000" stroke-width="11.2" stroke-linejoin="round"/>
<path d="M140.0,395.0 L147.1,396.4 L150.7,396.3 L154.3,392.7 L157.9,392.7 L161.4,395.4 L165.0,394.0 L168.6,394.7 L172.1,394.2 L175.7,392.6 L179.3,393.5 L182.9,393.3 L186.4,393.0 L190.0,392.5 L193.6,391.3 L197.3,392.4 L200.9,392.4 L204.5,393.7 L208.2,394.8 L211.8,394.8 L215.5,393.3 L219.1,393.0 L222.7,392.4 L226.4,391.6 L230.0,393.5 L233.5,391.9 L237.0,393.7 L240.5,393.3 L244.0,393.6 L247.5,395.7 L251.0,394.5 L254.5,394.8 L258.0,393.7 L261.5,393.0 L265.0,395.0 L269.0,395.2 L273.0,395.4 L277.0,397.7 L281.0,400.5 L285.0,399.5 L289.0,401.0 L293.0,400.0 L297.0,403.6 L301.0,404.1 L305.0,403.8 L308.5,404.9 L312.0,405.8 L315.5,405.5 L319.0,405.8 L322.5,404.3 L326.0,406.9 L329.5,407.1 L333.0,404.3 L336.5,406.7 L340.0,406.0 L343.6,407.0 L347.3,406.1 L350.9,406.5 L354.5,406.5 L358.2,408.3 L361.8,406.8 L365.5,408.2 L369.1,406.5 L372.7,408.7 L376.4,408.9 L380.0,407.5 L383.8,407.2 L387.5,407.5 L391.2,408.7 L395.0,407.9 L398.8,406.8 L402.5,405.7 L406.2,406.0 L410.0,406.5 L413.6,407.1 L417.1,405.0 L420.7,407.7 L424.2,405.2 L427.8,407.5 L431.3,405.1 L434.9,407.5 L438.4,406.4 L442.0,405.5" fill="none" stroke="#fb3a3a" stroke-width="11.2" stroke-linejoin="round"/>
<path d="M140.0,656.3 L147.1,654.6 L150.7,655.5 L154.3,654.5 L157.9,655.1 L161.4,654.8 L165.0,654.0 L168.6,652.0 L172.1,651.4 L175.7,654.1 L179.3,651.5 L182.9,651.1 L186.4,653.6 L190.0,651.3 L193.5,651.4 L197.0,653.0 L200.5,651.9 L204.0,652.7 L207.5,651.1 L211.0,653.1 L214.5,654.2 L218.0,653.1 L221.5,654.2 L225.0,653.5 L228.5,654.4 L232.0,652.4 L235.5,655.3 L239.0,655.0 L242.5,654.1 L246.0,653.4 L249.5,656.8 L253.0,655.6 L256.5,656.9 L260.0,656.3 L263.6,659.0 L267.1,659.6 L270.7,661.6 L274.3,660.9 L277.9,663.7 L281.4,663.5 L285.0,665.0 L288.6,667.9 L292.1,669.0 L295.7,667.2 L299.3,668.6 L302.9,670.2 L306.4,674.3 L310.0,673.8 L313.6,674.1 L317.1,675.3 L320.7,674.6 L324.3,675.9 L327.9,676.0 L331.4,676.4 L335.0,677.5 L338.6,677.5 L342.2,677.3 L345.8,678.2 L349.4,677.1 L353.1,677.7 L356.7,677.2 L360.3,677.4 L363.9,675.9 L367.5,675.0 L371.2,673.2 L375.0,675.4 L378.8,675.3 L382.5,674.5 L386.2,672.8 L390.0,672.8 L393.8,670.4 L397.5,672.3 L401.2,670.8 L405.0,670.0 L408.8,669.2 L412.5,668.3 L416.2,671.3 L420.0,671.9 L423.8,668.4 L427.5,671.1 L431.2,669.7 L435.0,668.7 L438.8,669.2 L442.5,670.0" fill="none" stroke="#03a0fc" stroke-width="11.2" stroke-linejoin="round"/>
<!-- labels -->
<text x="160" y="135.1" class="lb">PB</text>
<text x="158.5" y="360.5" class="lb" letter-spacing="0.5">EPB25</text>
<text x="156" y="623" class="lb" letter-spacing="0.45">vitrimer 4</text>
<text x="289.6" y="785" class="lb">O</text><rect x="321.3" y="774.2" width="25" height="2.6" fill="#000"/><text x="346.4" y="785" class="lb">H</text>
<text x="834" y="791.8" class="lb">C</text><rect x="865.9" y="771.4" width="24.1" height="2.7" fill="#000"/><rect x="865.9" y="779.5" width="24.1" height="2.7" fill="#000"/><text x="891.2" y="791.8" class="lb">O</text>
<text x="1026" y="529" class="it" letter-spacing="0.32">epoxy group</text>
<text x="1026" y="777.8" class="it" letter-spacing="0.32">epoxy group</text>
<!-- arrows -->
<g stroke="#000" fill="#000">
<line x1="330.8" y1="742" x2="330.8" y2="712" stroke-width="3"/>
<path d="M330.8,685.5 L337.2,715 L324.4,715 Z" stroke="none"/>
<line x1="879.7" y1="751.9" x2="898" y2="729.5" stroke-width="3"/>
<path d="M913.6,710.6 L903.3,735.8 L890.7,726.5 Z" stroke="none"/>
<line x1="1198" y1="498" x2="1216" y2="476" stroke-width="3.5"/>
<path d="M1230.5,457.5 L1222.5,482 L1208.5,471.5 Z" stroke="none"/>
<line x1="1199" y1="744" x2="1217" y2="721" stroke-width="3.5"/>
<path d="M1232.5,701.5 L1224.5,727 L1210.5,716 Z" stroke="none"/>
</g>
<!-- axis titles -->
<g style="font-kerning:none">
<text x="456" y="1151.4" style="font-size:62px">Wavenumber (cm</text>
<rect x="933" y="1110.1" width="21.5" height="2.3" fill="#000"/>
<text x="966.3" y="1125.3" text-anchor="middle" style="font-size:38px">1</text>
<text x="974.6" y="1151.4" style="font-size:62px">)</text>
<text transform="translate(61.7,756) rotate(-90) scale(1,1.04)" style="font-size:58px;letter-spacing:2px">Transmittance (a.u.)</text>
</g>
</svg>
</body></html>
